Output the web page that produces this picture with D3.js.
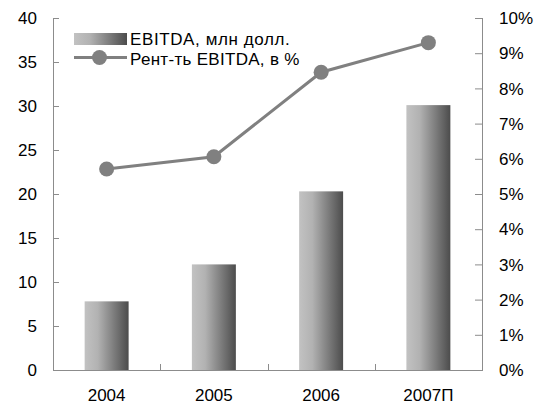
<!DOCTYPE html>
<html><head><meta charset="utf-8">
<script src="https://cdn.jsdelivr.net/npm/d3@7"></script>
<style>body{margin:0;background:#fff}svg{display:block}text{font-family:"Liberation Sans",Arial,sans-serif;fill:#000}</style>
</head><body><svg id="c" width="548" height="405"></svg>
<script>
const categories = ["2004","2005","2006","2007П"];
const ebitda = [7.8, 12.0, 20.3, 30.1];
const margin = [5.71, 6.06, 8.46, 9.30];
const leftTicks = [0,5,10,15,20,25,30,35,40];
const rightTicks = [0,1,2,3,4,5,6,7,8,9,10];
const legendLabels = ["EBITDA, млн долл.", "Рент-ть EBITDA, в %"];

const svg = d3.select("#c");
const L = 53, R = 482, T = 18, B = 370;
const fs = 17;
const axisColor = "#8c8c8c";

const defs = svg.append("defs");
const g = defs.append("linearGradient").attr("id","bg").attr("x1","0").attr("x2","1").attr("y1","0").attr("y2","0");
g.append("stop").attr("offset","0").attr("stop-color","#c2c2c2");
g.append("stop").attr("offset","0.3").attr("stop-color","#b2b2b2");
g.append("stop").attr("offset","1").attr("stop-color","#4c4c4c");

const x0 = d3.scaleBand().domain(categories).range([L,R]).padding(0);
const xb = d3.scaleBand().domain(categories).range([L,R]).paddingInner(0.59).paddingOuter(0.295);
const yL = d3.scaleLinear().domain([0,40]).range([B,T]);
const yR = d3.scaleLinear().domain([0,10]).range([B,T]);

// bars
svg.selectAll("rect.bar").data(ebitda).enter().append("rect")
  .attr("x",(d,i)=>xb(categories[i])).attr("width",xb.bandwidth())
  .attr("y",d=>yL(d)).attr("height",d=>B-yL(d)).attr("fill","url(#bg)");

// left axis
const la = svg.append("g").attr("transform",`translate(${L},0)`)
  .call(d3.axisRight(yL).tickValues(leftTicks).tickSize(6).tickFormat(""));
la.select(".domain").remove();
la.selectAll("line").attr("stroke",axisColor);
svg.append("line").attr("x1",L+0.5).attr("x2",L+0.5).attr("y1",T).attr("y2",B).attr("stroke",axisColor);
svg.selectAll("text.lt").data(leftTicks).enter().append("text")
  .attr("x",37).attr("y",d=>yL(d)).attr("dy","0.36em").attr("text-anchor","end")
  .attr("font-size",fs).text(d=>d);

// right axis
const ra = svg.append("g").attr("transform",`translate(${R},0)`)
  .call(d3.axisLeft(yR).tickValues(rightTicks).tickSize(7).tickFormat(""));
ra.select(".domain").remove();
ra.selectAll("line").attr("stroke",axisColor);
svg.append("line").attr("x1",R+0.5).attr("x2",R+0.5).attr("y1",T).attr("y2",B).attr("stroke",axisColor);
svg.selectAll("text.rt").data(rightTicks).enter().append("text")
  .attr("x",499).attr("y",d=>yR(d)).attr("dy","0.36em").attr("text-anchor","start")
  .attr("font-size",fs).text(d=>d+"%");

// x axis
svg.append("line").attr("x1",L).attr("x2",R+1).attr("y1",B+0.5).attr("y2",B+0.5).attr("stroke",axisColor);
svg.selectAll("line.xt").data(categories.slice(1)).enter().append("line")
  .attr("x1",d=>Math.round(x0(d))+0.5).attr("x2",d=>Math.round(x0(d))+0.5)
  .attr("y1",B).attr("y2",B-6).attr("stroke",axisColor);
svg.selectAll("text.xl").data(categories).enter().append("text")
  .attr("x",d=>x0(d)+x0.bandwidth()/2).attr("y",401).attr("text-anchor","middle")
  .attr("font-size",fs).text(d=>d);

// line
const cx = (d,i)=>x0(categories[i])+x0.bandwidth()/2;
svg.append("path").datum(margin)
  .attr("d",d3.line().x(cx).y(d=>yR(d)))
  .attr("fill","none").attr("stroke","#808080").attr("stroke-width",3);
svg.selectAll("circle.pt").data(margin).enter().append("circle")
  .attr("cx",cx).attr("cy",d=>yR(d)).attr("r",7.5).attr("fill","#808080");

// legend
svg.append("rect").attr("x",74).attr("y",33).attr("width",53).attr("height",12).attr("fill","url(#bg)");
svg.append("text").attr("x",130).attr("y",44.5).attr("font-size",17).attr("letter-spacing",0.6).text(legendLabels[0]);
svg.append("line").attr("x1",74).attr("x2",127).attr("y1",57.5).attr("y2",57.5).attr("stroke","#808080").attr("stroke-width",3);
svg.append("circle").attr("cx",99.5).attr("cy",57.5).attr("r",7.5).attr("fill","#808080");
svg.append("text").attr("x",130).attr("y",64.5).attr("font-size",17).attr("letter-spacing",0.3).text(legendLabels[1]);
</script></body></html>
